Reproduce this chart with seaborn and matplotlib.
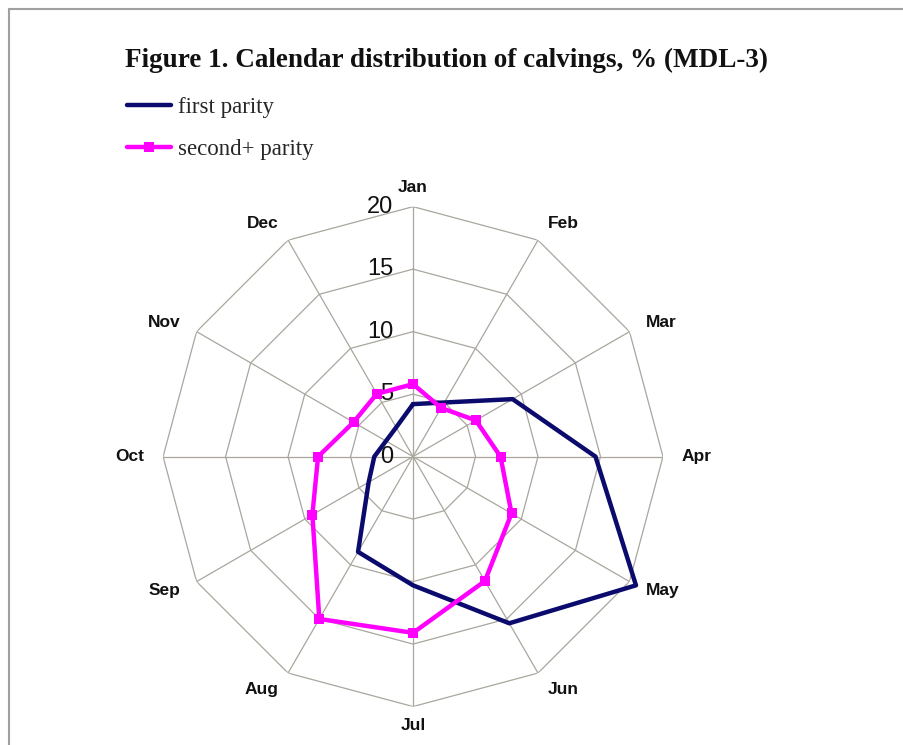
import matplotlib
matplotlib.use("Agg")
import matplotlib.pyplot as plt
import seaborn as sns
import numpy as np
from matplotlib.lines import Line2D

# calendar distribution of calvings, %
months = ['Jan', 'Feb', 'Mar', 'Apr', 'May', 'Jun', 'Jul', 'Aug', 'Sep', 'Oct', 'Nov', 'Dec']
first_parity = [4.2, 5.0, 9.2, 14.6, 20.6, 15.4, 10.3, 8.8, 4.1, 3.1, 2.5, 2.7]
second_parity = [5.8, 4.5, 5.8, 7.0, 9.1, 11.5, 14.1, 15.0, 9.3, 7.6, 5.5, 5.8]
rings = [5, 10, 15, 20]
tick_labels = ['0', '5', '10', '15', '20']

sns.set_theme(style='white')
plt.rcParams['font.family'] = ['Liberation Sans', 'DejaVu Sans']

fig = plt.figure(figsize=(9.04, 7.45), dpi=100)
ax = fig.add_axes([0.1804, 0.0516, 0.553, 0.671], projection='polar')
ax.set_theta_zero_location('N')
ax.set_theta_direction(-1)
ax.set_ylim(0, 20)
ax.grid(False)
ax.spines['polar'].set_visible(False)
ax.set_xticks([])
ax.set_yticks([])
ax.patch.set_alpha(0)

theta = np.arange(len(months)) * 2 * np.pi / len(months)
theta_c = np.append(theta, 2 * np.pi)

gridc = '#a9a69e'
for r in rings:
    ax.plot(theta_c, [r] * len(theta_c), color=gridc, lw=0.9, zorder=1)
for t in theta:
    ax.plot([t, t], [0, 20], color=gridc, lw=0.9, zorder=1)

navy = '#0b0b6e'
pink = '#ff00ff'
sns.lineplot(x=theta_c, y=first_parity + first_parity[:1], ax=ax, sort=False,
             estimator=None, color=navy, lw=3.2, zorder=3, clip_on=False)
sns.lineplot(x=theta_c, y=second_parity + second_parity[:1], ax=ax, sort=False,
             estimator=None, color=pink, lw=3.2, marker='s', markersize=7,
             markeredgewidth=0, zorder=4, clip_on=False)

# month labels
for t, m in zip(theta, months):
    s = np.sin(t)
    ha = 'left' if s > 0.1 else ('right' if s < -0.1 else 'center')
    ax.text(t, 21.5, m, ha=ha, va='center', fontsize=12.5, fontweight='bold',
            color='#111111')

# radial tick labels
for lv, lab in zip([0] + rings, tick_labels):
    ax.annotate(lab, xy=(0, lv), xytext=(-14, 0), textcoords='offset points',
                ha='right', va='center', fontsize=17, color='#111111',
                annotation_clip=False)

fig.text(125 / 904, 1 - 60 / 745, 'Figure 1. Calendar distribution of calvings, % (MDL-3)',
         ha='left', va='center', fontsize=19.5, fontweight='bold',
         family='Liberation Serif', color='#111111')

handles = [Line2D([], [], color=navy, lw=3.2),
           Line2D([], [], color=pink, lw=3.2, marker='s', markersize=7, markeredgewidth=0)]
fig.legend(handles, ['first parity', 'second+ parity'], loc='upper left',
           bbox_to_anchor=(118 / 904, 1 - 88 / 745), frameon=False,
           prop={'family': 'Liberation Serif', 'size': 16.5}, handlelength=1.9,
           handletextpad=0.3, labelspacing=0.9, borderaxespad=0)

# frame lines on top and left
fig.add_artist(Line2D([9 / 904, 1], [1 - 9 / 745, 1 - 9 / 745], color='#a0a0a0', lw=1.5,
                      transform=fig.transFigure))
fig.add_artist(Line2D([9 / 904, 9 / 904], [0, 1 - 9 / 745], color='#a0a0a0', lw=1.5,
                      transform=fig.transFigure))

plt.savefig('out.png', dpi=100)
plt.close()
